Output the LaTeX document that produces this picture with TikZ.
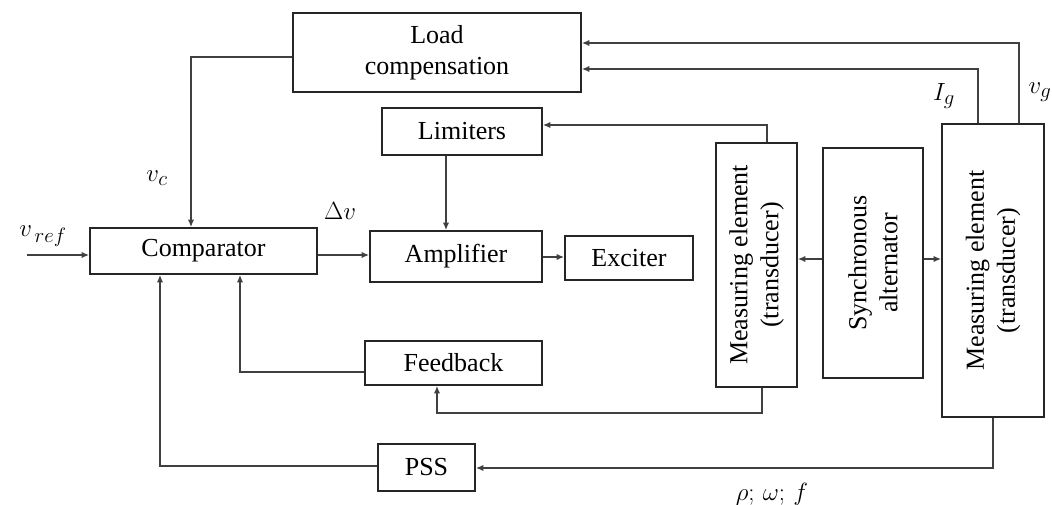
\documentclass[tikz,border=0pt]{standalone}
\usepackage{fontspec}
\setmainfont{Liberation Serif}
\usetikzlibrary{arrows.meta,calc}
\begin{document}
\begin{tikzpicture}[x=1pt,y=-1pt,
  blk/.style={draw=black!85,line width=1.8pt,inner sep=0pt,align=center,
    font=\fontsize{26}{31}\selectfont},
  wire/.style={draw=black!75,line width=1.5pt},
  arr/.style={wire,-{Latex[length=7.5pt,width=6.5pt]}},
  lbl/.style={inner sep=0pt,font=\fontsize{26}{31}\selectfont},
  sig/.style={inner sep=0pt,font=\fontsize{31}{36}\selectfont}]
\useasboundingbox (0,0) rectangle (1052,505);

% blocks (centre, width, height)
\node[blk,minimum width=288pt,minimum height=79pt] (load) at (437,52.5) {Load\\compensation};
\node[blk,minimum width=160pt,minimum height=47pt] (lim)  at (462,131.5) {Limiters};
\node[blk,minimum width=227pt,minimum height=46pt] (comp) at (203.5,251) {Comparator};
\node[blk,minimum width=172pt,minimum height=51pt] (amp)  at (456,256.5) {Amplifier};
\node[blk,minimum width=128pt,minimum height=44pt] (exc)  at (629,258) {Exciter};
\node[blk,minimum width=177pt,minimum height=44pt] (fb)   at (453.5,363) {Feedback};
\node[blk,minimum width=97pt,minimum height=47pt]  (pss)  at (426.5,467.5) {PSS};
\node[blk,minimum width=81pt,minimum height=244pt] (m1)   at (756.5,265) {};
\node[blk,minimum width=100pt,minimum height=230pt](alt)  at (873,263) {};
\node[blk,minimum width=102pt,minimum height=293pt](m2)   at (993,270.5) {};
\node[lbl,rotate=90,align=center] at (m1) {Measuring element\\(transducer)};
\node[lbl,rotate=90,align=center] at (alt) {Synchronous\\alternator};
\node[lbl,rotate=90,align=center] at (m2) {Measuring element\\(transducer)};

% free end of the reference input
\coordinate (vin) at (27,255);

% signal paths
\draw[arr] (vin) -- (vin -| comp.west);
\draw[arr] (comp.east |- 0,255) -- (amp.west |- 0,255);
\draw[arr] (amp.east |- 0,257) -- (exc.west |- 0,257);
\draw[arr] (load.west |- 0,57) -| (comp.north -| 191,0);
\draw[arr] (lim.south -| 446,0) -- (amp.north -| 446,0);
\draw[arr] (m1.north -| 767,0) |- (lim.east |- 0,125);
\draw[arr] (m2.north -| 1019,0) |- (load.east |- 0,43);
\draw[arr] (m2.north -| 978,0) |- (load.east |- 0,69);
\draw[arr] (alt.west |- 0,259) -- (m1.east |- 0,259);
\draw[arr] (alt.east |- 0,259) -- (m2.west |- 0,259);
\draw[arr] (m1.south -| 762,0) |- (437,413) -- (fb.south -| 437,0);
\draw[arr] (fb.west |- 0,372) -| (comp.south -| 240,0);
\draw[arr] (m2.south -| 993,0) |- (pss.east |- 0,468);
\draw[arr] (pss.west |- 0,466) -| (comp.south -| 160,0);

% signal labels
\node[sig] (lvref) at (43,236) {$v_{\,ref}$};
\node[sig] (lvc)   at (157,178) {$v_c$};
\node[sig] (ldv)   at (340,211) {$\Delta v$};
\node[sig] (lig)   at (944,96) {$I_g$};
\node[sig] (lvg)   at (1040,92) {$v_g$};
\node[sig] (lrho)  at (772,494) {$\rho;\,\omega;\,f$};
\end{tikzpicture}
\end{document}
